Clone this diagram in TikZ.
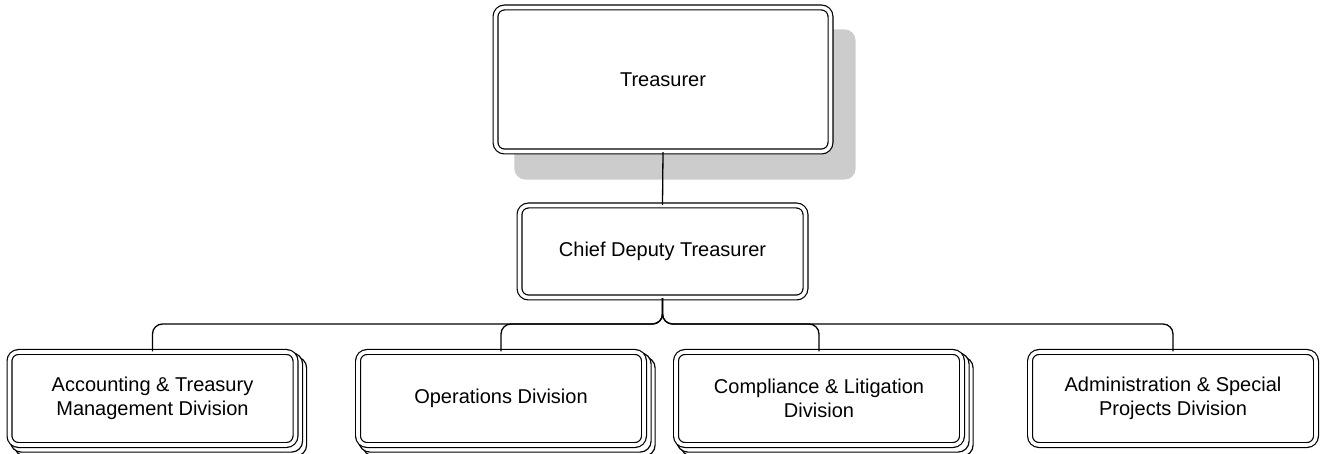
\documentclass[tikz,border=0pt]{standalone}
\usepackage{fontspec}
\setmainfont{Liberation Sans}
\usetikzlibrary{backgrounds,calc}
\begin{document}
\begin{tikzpicture}[x=1pt,y=-1pt,
  every node/.style={font=\fontsize{20}{24}\selectfont, align=center},
  orgbox/.style={draw, line width=1.2pt, double, double distance=3.6pt,
    rounded corners=9pt, fill=white, inner sep=0pt,
    minimum width=286pt, minimum height=93pt},
  link/.style={draw, line width=1.3pt, rounded corners=10pt},
  stackcopy/.style={draw, line width=1.2pt, fill=white, rounded corners=11pt},
  shadowbox/.style={fill=black!20, rounded corners=11pt}
]
\useasboundingbox (0,0) rectangle (1323,454);

\node[orgbox, minimum width=335pt, minimum height=144pt] (t) at (663,79.5) {Treasurer};
\node[orgbox, minimum height=92pt] (c) at (662.5,251.5) {Chief Deputy Treasurer};

\node[orgbox] (a1) at (152.5,398.5) {Accounting \& Treasury\\Management Division};
\node[orgbox] (a2) at (501,398.5) {Operations Division};
\node[orgbox] (a3) at (819,398.5) {Compliance \& Litigation\\Division};
\node[orgbox] (a4) at (1173,398.5) {Administration \& Special\\Projects Division};

\coordinate (bus) at (662.5,324);

\begin{pgfonlayer}{background}
  % shadow of the Treasurer box
  \path[shadowbox] ([shift={(19.5,22.5)}]t.north west) rectangle ([shift={(24.5,27.5)}]t.south east);
  % stacked copies behind the first three divisions
  \foreach \n in {a1,a2,a3}{
    \foreach \k in {8,4}{
      \path[stackcopy] ([shift={(-2.5+\k,-2.5+\k)}]\n.north west) rectangle ([shift={(2.5+\k,2.5+\k)}]\n.south east);
    }
  }
\end{pgfonlayer}

\draw[line width=1.3pt] (t.south) -- (c.north);
\foreach \n in {a1,a2,a3,a4}{
  \path[link] (c.south) -- (c.south |- bus) -- (\n.north |- bus) -- (\n.north);
}
\end{tikzpicture}
\end{document}
